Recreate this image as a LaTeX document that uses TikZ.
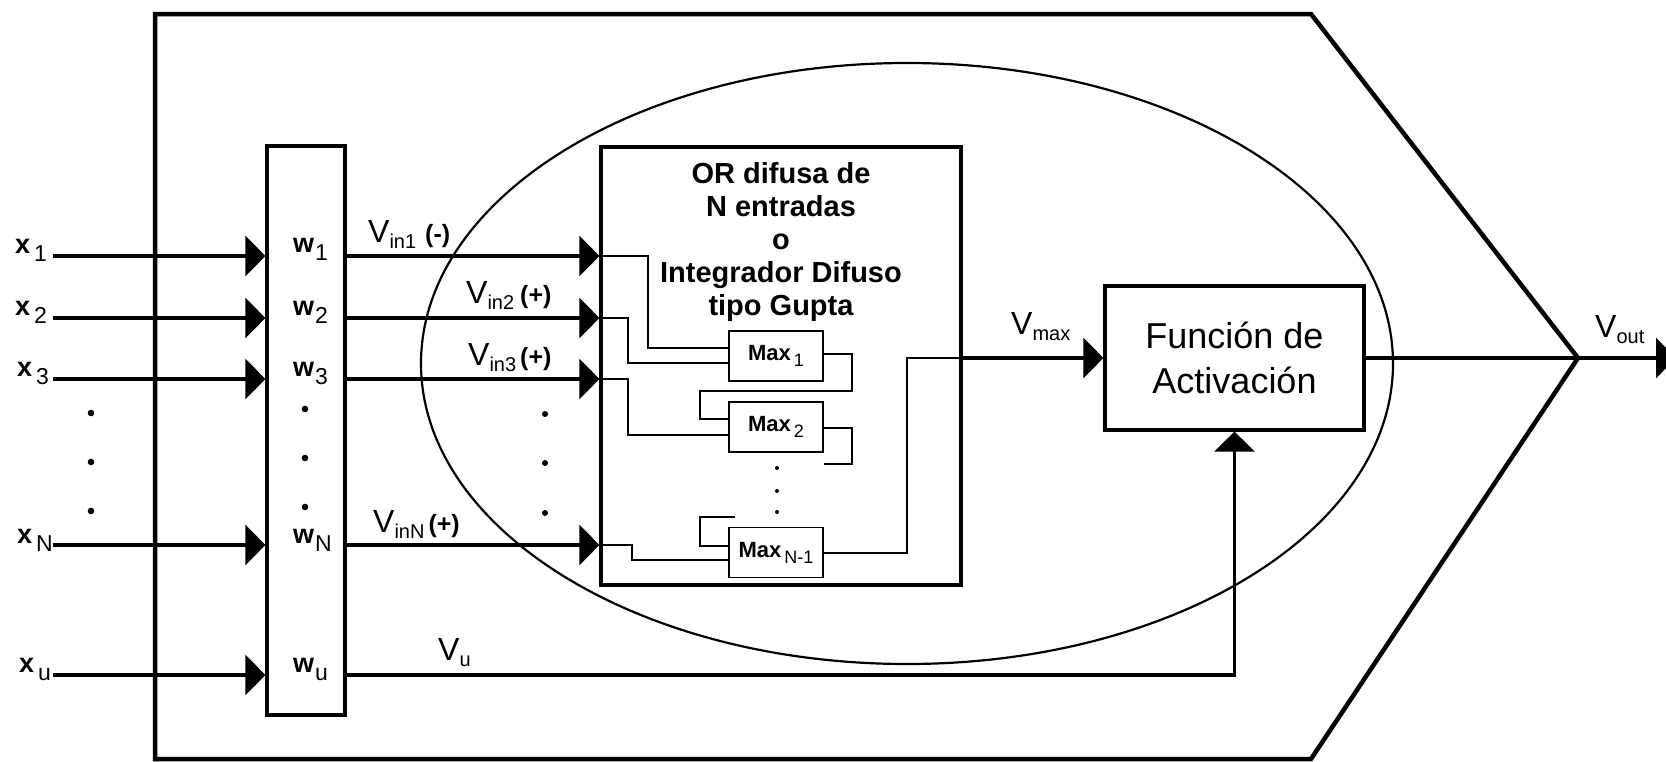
\documentclass[tikz,border=0pt]{standalone}
\usepackage{fontspec}
\setmainfont{Liberation Sans}
\usetikzlibrary{arrows.meta}

% labels: bold letter with a plain subscript
\newcommand{\xlab}[2]{{\bfseries\fontsize{27}{27}\selectfont #1}\hspace{4pt}\raisebox{-8pt}{\fontsize{23}{23}\selectfont #2}}
\newcommand{\wlab}[2]{{\bfseries\fontsize{27}{27}\selectfont #1}\hspace{1pt}\raisebox{-8pt}{\fontsize{23}{23}\selectfont #2}}
\newcommand{\vlab}[1]{{\fontsize{32}{32}\selectfont V}\raisebox{-6pt}{\fontsize{20}{20}\selectfont #1}}
\newcommand{\sgn}[1]{{\bfseries\fontsize{25}{25}\selectfont (#1)}}
\newcommand{\maxlab}[1]{{\bfseries\fontsize{22}{22}\selectfont Max}\hspace{3pt}\raisebox{-6pt}{\fontsize{18}{18}\selectfont #1}}

\tikzset{
  sig/.style={line width=3.2pt, -{Triangle[length=20pt,width=40pt]}},
  bar/.style={draw, line width=3.2pt, inner sep=0pt},
  maxbox/.style={draw, line width=1.6pt, minimum width=94pt, minimum height=50pt, inner sep=0pt},
  wire/.style={line width=1.6pt},
  lab/.style={inner sep=0pt, anchor=base west},
}

\begin{document}
\begin{tikzpicture}[x=1pt, y=-1pt]
\useasboundingbox (0,0) rectangle (1666,761);

% outer neuron outline
\draw[line width=4.5pt, line join=miter] (155,14) -- (1311,14) -- (1578,358) -- (1311,759) -- (155,759) -- cycle;
\draw[line width=2.2pt] (907,363.5) ellipse [x radius=486, y radius=300.5];

% blocks
\node[bar, minimum width=78pt, minimum height=569pt] (w) at (306,430.5) {};
\node[bar, minimum width=360pt, minimum height=438pt] (orbox) at (781,366) {};
\node[bar, minimum width=259pt, minimum height=144pt, align=center,
      font=\fontsize{36}{45}\selectfont] (fbox) at (1234.5,358) {Función de\\Activación};
\node[align=center, font=\bfseries\fontsize{29}{33}\selectfont] (ortitle) at (781,241.5)
  {OR difusa de\\N entradas\\o\\Integrador Difuso\\tipo Gupta};

\node[maxbox] (max1) at (776,356) {\maxlab{1}};
\node[maxbox] (max2) at (776,427) {\maxlab{2}};
\node[maxbox] (maxn) at (776,552.5) {\maxlab{N-1}};

% inputs
\coordinate (in1) at (53,256);
\coordinate (in2) at (53,318);
\coordinate (in3) at (53,379);
\coordinate (inN) at (53,545);
\coordinate (inU) at (53,675);
\coordinate (vmx) at (907,358);
\coordinate (vout) at (1676,358);

\foreach \i in {in1,in2,in3,inN,inU}
  \draw[sig] (\i) -- (w.west |- \i);
\foreach \i in {in1,in2,in3,inN}
  \draw[sig] (w.east |- \i) -- (orbox.west |- \i);
\draw[sig] (w.east |- inU) -| (fbox.south);

% max chain
\draw[wire] (orbox.west |- in1) -| ([xshift=-80pt,yshift=8pt]max1.west) -- ([yshift=8pt]max1.west);
\draw[wire] (orbox.west |- in2) -| ([xshift=-100pt,yshift=-7pt]max1.west) -- ([yshift=-7pt]max1.west);
\draw[wire] ([yshift=2pt]max1.east) -- ++(28,0) |- ([xshift=-28pt,yshift=36pt]max2.west) |- ([yshift=8pt]max2.west);
\draw[wire] (orbox.west |- in3) -| ([xshift=-100pt,yshift=-8pt]max2.west) -- ([yshift=-8pt]max2.west);
\draw[wire] ([yshift=-1pt]max2.east) -- ++(28,0) |- ([yshift=-37pt]max2.east);
\draw[wire] ([xshift=7pt,yshift=35.5pt]maxn.west) -| ([xshift=-28pt,yshift=6.5pt]maxn.west) -- ([yshift=6.5pt]maxn.west);
\draw[wire] (orbox.west |- inN) -| ([xshift=-96pt,yshift=-7.5pt]maxn.west) -- ([yshift=-7.5pt]maxn.west);
\draw[wire] ([yshift=-0.5pt]maxn.east) -| (vmx) -- (orbox.east |- vmx);

\draw[sig] (orbox.east |- fbox.west) -- (fbox.west);
\draw[sig] (fbox.east) -- (vout);

% dots
\foreach \y in {413,462,511} \fill (91,\y) circle (3.3);
\foreach \y in {409,458,507} \fill (305,\y) circle (3.3);
\foreach \y in {414,463,513} \fill (545,\y) circle (3);
\foreach \y in {468,491,512} \fill (777,\y) circle (2);

% labels
\node[lab] (lx1) at (15,253) {\xlab{x}{1}};
\node[lab] (lx2) at (15,315) {\xlab{x}{2}};
\node[lab] (lx3) at (17,376) {\xlab{x}{3}};
\node[lab] (lxN) at (17,543) {\xlab{x}{N}};
\node[lab] (lxu) at (19,672) {\xlab{x}{u}};
\node[lab] (lw1) at (293,252) {\wlab{w}{1}};
\node[lab] (lw2) at (293,315) {\wlab{w}{2}};
\node[lab] (lw3) at (293,376) {\wlab{w}{3}};
\node[lab] (lwN) at (293,543) {\wlab{w}{N}};
\node[lab] (lwu) at (293,672) {\wlab{w}{u}};

\node[lab] (lv1) at (368,242) {\vlab{in1}\hspace{9pt}\sgn{-}};
\node[lab] (lv2) at (466,303) {\vlab{in2}\hspace{6pt}\sgn{+}};
\node[lab] (lv3) at (468,365) {\vlab{in3}\hspace{4pt}\sgn{+}};
\node[lab] (lvN) at (373,532) {\vlab{inN}\hspace{4pt}\sgn{+}};
\node[lab] (lvu) at (438,660) {\vlab{u}};
\node[lab] (lvm) at (1011,334) {\vlab{max}};
\node[lab] (lvo) at (1595,337) {\vlab{out}};
\end{tikzpicture}
\end{document}
